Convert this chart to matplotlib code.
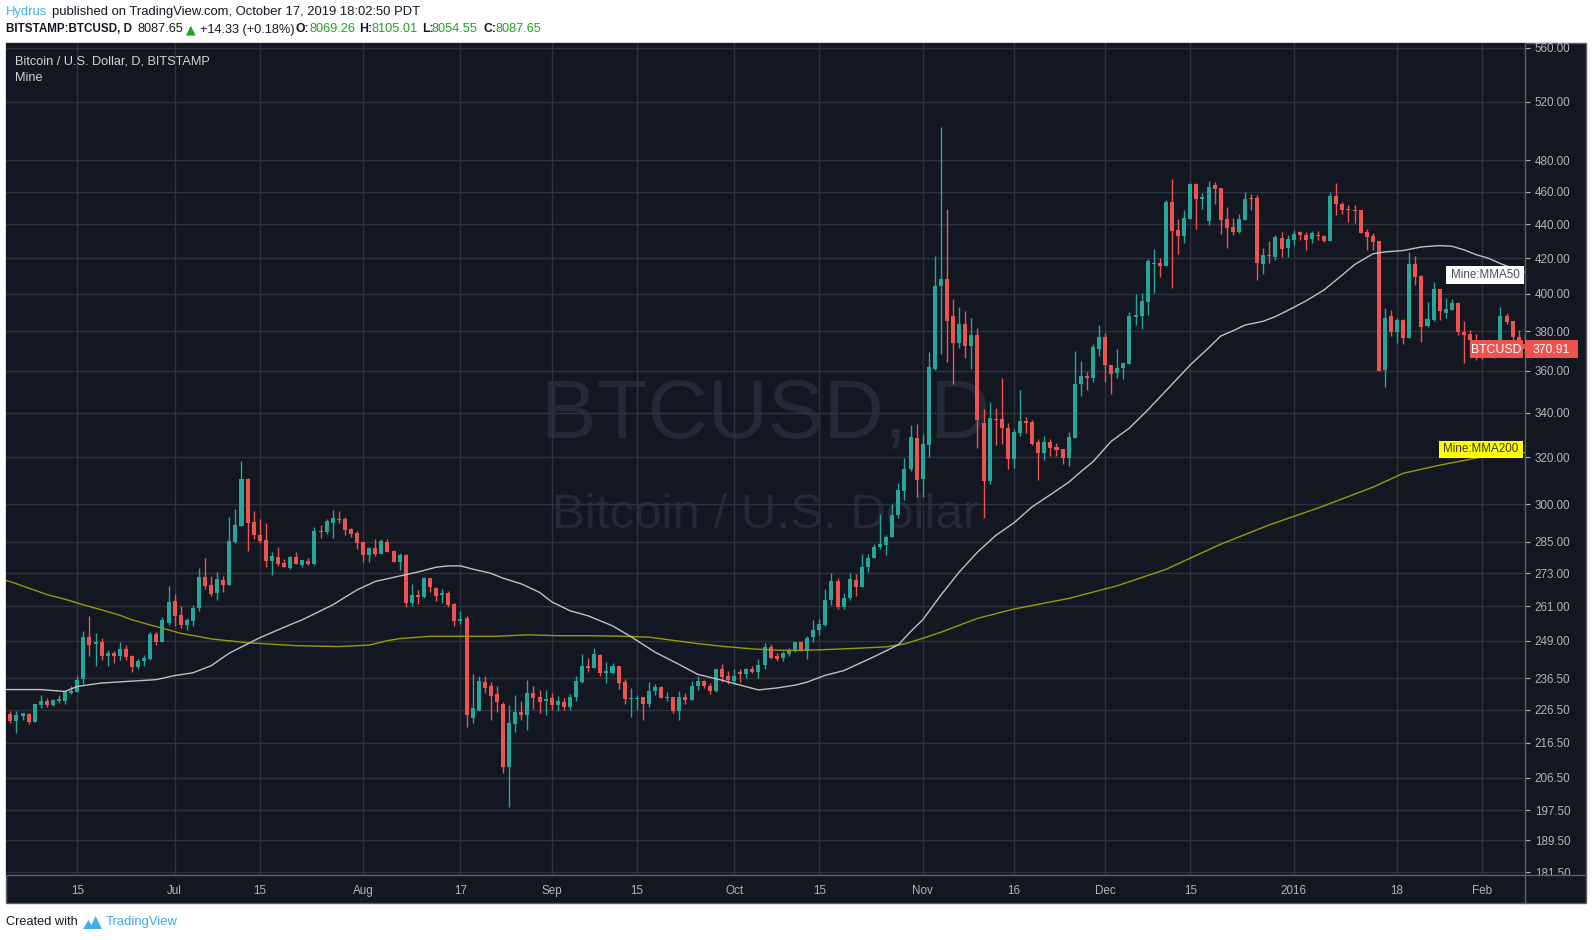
import numpy as np
import pandas as pd
import matplotlib
matplotlib.use("Agg")
import matplotlib.pyplot as plt
import matplotlib.dates as mdates
from matplotlib.patches import Rectangle, Polygon
from matplotlib.lines import Line2D
from matplotlib.ticker import NullLocator
from matplotlib.transforms import Bbox

plt.rcParams['font.family'] = ['Liberation Sans', 'DejaVu Sans']

# ---------------- data (BITSTAMP BTCUSD, daily) ----------------
start_date = '2015-06-04'

opens = [
    225.2, 223.2, 224.7, 225.2, 222.9, 227.9, 229.2, 227.9, 229.2, 229.2, 231.8, 232.1, 236.2, 250.2, 247.7, 248.6, 243.7, 244.9, 243.7, 246.1, 243.9, 240.1, 242.1, 242.9, 251.3, 248.6, 255.2,
    262.9, 257.9, 254.4, 255.9, 260.4, 271.7, 268.8, 265.6, 270.6, 268.8, 284.8, 291.3, 310.4, 292.8, 287.6, 285.8, 277.8, 279.2, 276.9, 275.0, 279.2, 276.3, 277.7, 276.5, 289.3, 289.0, 292.6, 294.2, 294.0, 290.1, 288.5,
    285.0, 280.0, 282.7, 280.5, 285.0, 281.5, 277.4, 280.0, 262.3, 265.1, 264.2, 271.4, 267.6, 264.9, 265.9, 261.8, 255.9, 257.0, 223.9, 226.3, 235.4, 233.9, 231.4, 228.5, 209.6, 222.3, 225.9, 224.9, 231.8, 230.5, 229.2,
    230.2, 227.9, 229.1, 227.3, 230.5, 235.4, 240.6, 240.0, 244.2, 238.3, 238.3, 240.4, 235.2, 230.0, 230.0, 230.4, 228.2, 232.3, 233.6, 230.1, 230.4, 226.1, 230.4, 229.5, 233.9, 235.5, 234.2, 232.3, 239.4, 237.1,
    235.7, 238.4, 237.8, 239.4, 238.7, 240.7, 246.9, 243.7, 243.3, 244.4, 245.5, 248.4, 245.5, 250.1, 252.5, 254.4, 263.1, 270.2, 260.9, 264.1, 270.6, 267.8, 275.3, 278.6, 283.1, 283.9, 286.8, 295.7, 305.7, 314.9, 328.5,
    310.6, 325.4, 361.0, 404.3, 408.3, 388.1, 374.1, 383.9, 372.7, 378.2, 335.3, 309.9, 337.2, 337.2, 333.0, 319.2, 330.7, 336.4, 335.8, 326.7, 321.8, 326.7, 324.5, 323.6, 319.7, 328.5, 353.6, 357.6, 356.6, 371.0,
    377.1, 363.0, 359.0, 361.5, 363.4, 387.6, 388.1, 395.6, 416.7, 417.2, 415.5, 453.5, 436.5, 432.9, 443.1, 464.8, 455.4, 441.9, 464.2, 462.3, 443.1, 438.2, 435.3, 442.5, 456.0, 456.0, 416.7, 421.8, 420.7, 431.8, 425.9,
    430.6, 435.3, 433.5, 431.2, 433.5, 432.9, 430.0, 457.3, 452.3, 449.0, 448.6, 448.6, 435.3, 432.9, 430.0, 360.5, 388.1, 379.7, 386.0, 376.6, 416.7, 409.9, 382.8, 386.0, 402.7, 389.7, 391.3, 395.0, 379.7, 378.6, 375.6,
    373.0, 372.5, 373.5, 370.5, 388.1, 385.3, 377.2, 373.5,
]
highs = [
    226.3, 226.3, 225.5, 225.7, 228.4, 231.1, 230.1, 229.8, 231.1, 232.3, 234.2, 237.4, 252.3, 257.6, 251.5, 249.8, 245.8, 245.4, 248.4, 247.6, 244.3, 242.8, 244.2, 252.0, 252.0, 257.1, 268.3,
    265.4, 261.1, 256.7, 261.4, 275.0, 278.8, 272.1, 273.5, 272.1, 294.8, 297.9, 318.3, 311.0, 297.3, 294.0, 292.5, 281.1, 283.0, 278.3, 279.6, 281.1, 278.1, 278.8, 290.7, 291.6, 294.2, 297.7, 297.3, 294.8, 290.5, 289.3,
    285.3, 283.2, 286.1, 286.1, 286.1, 281.9, 280.7, 280.5, 269.1, 266.9, 271.7, 271.4, 267.9, 267.3, 266.5, 262.3, 259.3, 257.4, 237.9, 237.1, 237.1, 235.4, 234.1, 229.1, 228.1, 231.2, 229.2, 236.0, 234.1, 232.8, 232.8,
    231.8, 230.9, 230.2, 231.5, 237.3, 244.4, 243.2, 246.5, 244.5, 241.8, 241.4, 240.4, 236.3, 233.3, 231.2, 230.4, 235.2, 234.8, 234.2, 232.0, 230.4, 232.3, 231.7, 235.8, 237.4, 236.0, 234.9, 239.7, 241.1, 238.8,
    239.7, 239.4, 240.0, 240.4, 242.7, 248.3, 247.9, 245.0, 245.5, 246.6, 248.7, 248.7, 250.7, 256.2, 256.6, 267.3, 273.2, 271.3, 265.6, 273.2, 272.9, 280.4, 280.4, 284.3, 296.1, 287.8, 300.2, 309.0, 319.7, 334.4, 334.9,
    330.3, 369.5, 421.3, 502.5, 449.2, 397.2, 392.9, 390.8, 387.0, 381.8, 341.8, 345.0, 342.3, 356.6, 335.3, 332.5, 350.8, 338.1, 336.7, 328.0, 329.4, 328.0, 326.2, 323.6, 331.2, 369.9, 365.0, 359.5, 373.5, 383.3,
    379.2, 363.0, 371.0, 364.4, 390.2, 399.9, 400.5, 419.5, 425.3, 420.1, 454.8, 468.0, 443.1, 448.6, 465.4, 465.4, 459.1, 466.7, 466.1, 462.3, 450.4, 443.7, 446.2, 459.8, 458.5, 457.9, 425.9, 430.0, 433.5, 435.3, 433.5,
    436.5, 435.9, 435.3, 435.9, 435.9, 433.3, 459.8, 465.4, 453.5, 451.7, 451.7, 448.6, 437.1, 434.7, 430.0, 392.4, 391.3, 387.0, 386.5, 423.6, 421.3, 410.4, 395.6, 406.6, 402.7, 397.7, 397.2, 395.6, 385.3, 380.8, 378.6,
    375.0, 376.0, 375.0, 392.9, 389.5, 385.3, 380.5, 379.0,
]
lows = [
    222.5, 219.4, 223.4, 222.3, 222.9, 227.1, 227.4, 227.7, 228.6, 228.2, 231.4, 232.1, 234.6, 243.7, 240.4, 242.4, 240.4, 241.5, 242.6, 242.4, 238.5, 239.6, 240.4, 242.6, 247.4, 248.6, 254.4,
    254.2, 253.3, 252.7, 254.2, 259.3, 267.4, 264.5, 263.4, 266.3, 268.8, 284.5, 291.3, 281.3, 286.1, 284.5, 275.2, 272.5, 275.8, 275.2, 274.7, 276.5, 275.2, 276.3, 276.2, 286.7, 287.9, 286.7, 292.5, 287.5, 287.1, 282.1,
    277.1, 277.1, 279.7, 280.5, 280.9, 277.1, 274.4, 260.9, 261.2, 261.8, 263.9, 266.0, 262.7, 262.3, 260.6, 254.2, 254.9, 221.4, 222.4, 226.3, 231.7, 223.3, 226.0, 207.9, 198.3, 219.9, 223.5, 220.4, 226.8, 225.5, 224.9,
    226.5, 226.3, 226.5, 226.5, 229.4, 235.0, 238.6, 240.0, 237.3, 235.1, 237.9, 233.2, 228.4, 224.4, 226.5, 223.5, 227.4, 231.1, 230.1, 229.3, 225.6, 223.5, 228.2, 229.5, 232.9, 233.4, 231.4, 232.0, 235.4, 234.8,
    234.8, 235.2, 236.5, 238.1, 236.5, 239.7, 242.7, 242.3, 242.3, 244.0, 245.1, 245.5, 243.0, 248.5, 250.8, 253.9, 261.3, 260.1, 260.1, 263.3, 264.5, 267.8, 273.6, 278.6, 282.4, 279.8, 286.8, 294.6, 301.9, 313.8, 303.2,
    303.2, 320.2, 360.3, 368.6, 364.6, 353.8, 371.7, 366.6, 361.0, 324.2, 294.6, 308.5, 325.4, 325.9, 314.9, 315.3, 329.4, 330.7, 325.4, 310.2, 318.8, 320.5, 320.5, 317.0, 316.2, 328.5, 347.9, 350.8, 354.6, 367.5,
    354.6, 348.8, 356.6, 356.1, 363.4, 383.3, 381.3, 388.6, 400.5, 409.3, 415.5, 403.2, 422.4, 428.8, 443.1, 437.1, 449.2, 439.5, 452.3, 434.1, 425.9, 433.5, 434.7, 442.5, 448.6, 407.6, 411.0, 417.2, 419.0, 420.5, 420.5,
    427.6, 430.6, 424.5, 428.8, 430.6, 429.2, 430.0, 445.5, 446.2, 441.3, 440.7, 434.7, 424.7, 424.7, 360.0, 352.2, 377.6, 374.1, 373.5, 376.6, 404.9, 374.5, 382.3, 385.3, 386.0, 387.0, 391.3, 378.1, 363.9, 370.5, 365.4,
    366.0, 369.0, 366.3, 369.0, 383.8, 374.0, 370.0, 368.0,
]
closes = [
    223.0, 224.9, 225.5, 222.9, 228.4, 229.2, 227.9, 229.5, 229.8, 232.0, 232.3, 236.1, 250.2, 247.6, 248.6, 243.7, 244.9, 243.7, 246.1, 243.6, 240.1, 242.3, 243.3, 251.3, 248.7, 256.2, 262.5,
    257.7, 254.4, 256.2, 260.4, 271.8, 268.5, 265.5, 270.8, 268.8, 285.4, 291.7, 310.4, 292.6, 287.5, 285.4, 277.8, 279.6, 276.5, 275.5, 279.2, 276.5, 278.1, 276.5, 289.3, 288.7, 293.3, 294.5, 293.7, 289.8, 287.9, 284.4,
    280.1, 282.7, 280.5, 285.4, 281.1, 277.4, 280.0, 262.3, 265.1, 264.2, 271.4, 267.8, 264.5, 265.8, 261.5, 255.9, 256.6, 224.8, 227.2, 235.7, 233.4, 231.0, 228.9, 209.6, 222.5, 225.9, 224.9, 231.8, 230.2, 228.9, 230.0,
    227.9, 229.4, 227.3, 230.5, 235.7, 240.6, 240.0, 244.5, 238.3, 238.9, 240.4, 234.9, 229.8, 230.1, 230.3, 228.2, 232.6, 233.6, 230.1, 230.4, 226.1, 230.7, 229.6, 234.2, 235.5, 233.9, 232.3, 239.4, 236.9, 236.1,
    237.4, 238.0, 239.4, 238.7, 241.0, 246.9, 243.3, 243.0, 244.8, 246.0, 248.4, 245.5, 250.0, 252.7, 254.8, 263.3, 270.2, 260.9, 264.0, 271.0, 267.8, 275.5, 278.9, 283.1, 284.3, 287.0, 295.7, 306.0, 314.9, 329.0, 310.2,
    325.9, 361.9, 404.3, 408.3, 385.6, 374.1, 383.9, 372.7, 378.2, 336.7, 309.9, 337.6, 336.7, 333.0, 319.2, 331.2, 336.2, 335.5, 325.9, 321.8, 326.7, 324.1, 323.2, 319.7, 329.0, 353.6, 357.6, 356.6, 372.0, 377.1,
    363.0, 358.5, 361.5, 363.9, 388.1, 388.6, 396.1, 418.4, 417.2, 415.5, 453.5, 435.9, 432.9, 443.7, 464.8, 455.4, 456.6, 462.9, 461.7, 442.5, 437.7, 435.3, 443.1, 455.4, 455.4, 417.2, 421.8, 421.3, 432.4, 425.3, 431.2,
    434.1, 433.7, 430.6, 434.7, 432.7, 429.8, 457.3, 452.3, 448.6, 448.6, 448.2, 434.7, 432.4, 429.4, 360.0, 387.0, 379.7, 386.0, 376.6, 416.7, 409.3, 382.3, 386.5, 402.7, 390.7, 391.8, 395.0, 379.7, 378.1, 375.6, 373.0,
    372.5, 373.5, 370.5, 388.1, 385.0, 377.2, 373.5, 370.91,
]

mma50_dates = [
    '2015-06-03', '2015-06-09', '2015-06-13', '2015-06-15', '2015-06-19', '2015-06-24', '2015-06-28', '2015-07-01',
    '2015-07-04', '2015-07-07', '2015-07-10', '2015-07-15', '2015-07-20', '2015-07-22', '2015-07-27', '2015-07-31',
    '2015-08-03', '2015-08-07', '2015-08-10', '2015-08-13', '2015-08-15', '2015-08-17', '2015-08-19', '2015-08-22',
    '2015-08-24', '2015-08-27', '2015-08-30', '2015-09-01', '2015-09-04', '2015-09-07', '2015-09-11', '2015-09-14',
    '2015-09-18', '2015-09-22', '2015-09-25', '2015-09-29', '2015-10-03', '2015-10-05', '2015-10-08', '2015-10-11',
    '2015-10-13', '2015-10-16', '2015-10-19', '2015-10-24', '2015-10-28', '2015-10-30', '2015-11-01', '2015-11-02',
    '2015-11-04', '2015-11-07', '2015-11-10', '2015-11-13', '2015-11-16', '2015-11-19', '2015-11-22', '2015-11-25',
    '2015-11-27', '2015-11-29', '2015-12-02', '2015-12-05', '2015-12-08', '2015-12-12', '2015-12-15', '2015-12-18',
    '2015-12-20', '2015-12-22', '2015-12-24', '2015-12-27', '2015-12-29', '2015-12-31', '2016-01-03', '2016-01-06',
    '2016-01-09', '2016-01-11', '2016-01-14', '2016-01-16', '2016-01-19', '2016-01-22', '2016-01-25', '2016-01-27',
    '2016-01-29', '2016-01-31', '2016-02-02', '2016-02-04', '2016-02-05', '2016-02-08',
]
mma50_values = [
    232.9, 232.9, 232.3, 233.9, 235.0, 235.6, 236.1, 237.4,
    238.3, 240.6, 244.8, 250.0, 254.5, 256.2, 261.5, 266.9,
    270.0, 272.0, 273.5, 275.3, 275.8, 275.8, 274.6, 273.0,
    271.2, 269.1, 266.0, 262.6, 259.4, 257.6, 254.1, 250.4,
    245.1, 241.0, 237.8, 235.9, 233.8, 232.8, 233.4, 234.3,
    235.3, 237.5, 239.0, 243.6, 247.6, 252.1, 256.2, 259.1,
    265.0, 273.5, 281.0, 287.5, 292.5, 299.0, 304.0, 309.2,
    313.7, 318.0, 327.0, 333.0, 341.3, 353.5, 363.0, 371.5,
    377.6, 380.3, 383.3, 385.3, 387.8, 391.0, 396.1, 402.2,
    410.5, 416.3, 422.5, 423.6, 424.4, 426.5, 427.3, 426.9,
    424.8, 422.0, 420.0, 416.9, 415.6, 412.0,
]

mma200_dates = [
    '2015-06-03', '2015-06-04', '2015-06-08', '2015-06-10', '2015-06-13', '2015-06-16', '2015-06-19', '2015-06-22',
    '2015-06-24', '2015-06-27', '2015-06-30', '2015-07-02', '2015-07-05', '2015-07-07', '2015-07-13', '2015-07-21',
    '2015-07-28', '2015-08-02', '2015-08-05', '2015-08-07', '2015-08-12', '2015-08-18', '2015-08-23', '2015-08-28',
    '2015-09-02', '2015-09-07', '2015-09-13', '2015-09-17', '2015-09-21', '2015-09-25', '2015-09-29', '2015-10-04',
    '2015-10-08', '2015-10-11', '2015-10-15', '2015-10-21', '2015-10-26', '2015-10-29', '2015-11-01', '2015-11-04',
    '2015-11-10', '2015-11-16', '2015-11-25', '2015-12-03', '2015-12-11', '2015-12-20', '2015-12-28', '2016-01-05',
    '2016-01-14', '2016-01-19', '2016-01-25', '2016-02-01', '2016-02-08',
]
mma200_values = [
    270.5, 269.9, 266.8, 265.2, 263.5, 261.5, 259.7, 257.8,
    256.2, 254.4, 252.7, 251.5, 250.4, 249.6, 248.3, 247.3,
    247.0, 247.5, 249.0, 249.7, 250.5, 250.5, 250.5, 251.0,
    250.7, 250.7, 250.5, 250.2, 249.1, 248.0, 247.1, 246.2,
    245.8, 245.7, 245.9, 246.4, 246.9, 247.9, 249.8, 251.9,
    256.7, 260.0, 263.8, 268.4, 274.5, 284.1, 291.7, 298.5,
    307.1, 313.0, 316.5, 320.1, 322.0,
]

price_ticks = [181.5, 189.5, 197.5, 206.5, 216.5, 226.5, 236.5, 249.0, 261.0, 273.0, 285.0, 300.0,
               320.0, 340.0, 360.0, 380.0, 400.0, 420.0, 440.0, 460.0, 480.0, 520.0, 560.0]
date_tick_dates = ['2015-06-15', '2015-07-01', '2015-07-15', '2015-08-01', '2015-08-17', '2015-09-01',
                   '2015-09-15', '2015-10-01', '2015-10-15', '2015-11-01', '2015-11-16', '2015-12-01',
                   '2015-12-15', '2016-01-01', '2016-01-18', '2016-02-01']
date_tick_labels = ['15', 'Jul', '15', 'Aug', '17', 'Sep', '15', 'Oct', '15', 'Nov', '16', 'Dec', '15',
                    '2016', '18', 'Feb']

# ---------------- figure ----------------
W, H = 1592, 940
BG = '#131722'
UP, DN = '#26a69a', '#ef5350'
AXTXT = '#b2b5be'
SEP = '#5d606b'

fig = plt.figure(figsize=(W / 100, H / 100), dpi=100)
fig.patch.set_facecolor('white')


def rect_px(x0, y0, x1, y1, **kw):
    r = Rectangle((x0 / W, 1 - y1 / H), (x1 - x0) / W, (y1 - y0) / H,
                  transform=fig.transFigure, **kw)
    fig.add_artist(r)
    return r


def text_px(x, y, s, **kw):
    kw.setdefault('va', 'center')
    return fig.text(x / W, 1 - y / H, s, **kw)


# dark chart panel
rect_px(6, 43, 1586, 903, facecolor=BG, edgecolor=SEP, linewidth=1.0, zorder=0)

PL, PR, PT, PB = 6, 1525, 43, 875
ax = fig.add_axes([PL / W, 1 - PB / H, (PR - PL) / W, (PB - PT) / H])
ax.set_facecolor(BG)
ax.set_zorder(1)
for sp in ax.spines.values():
    sp.set_visible(False)

dates = pd.date_range(start_date, periods=len(closes), freq='D')
x = mdates.date2num(dates)
o = np.array(opens)
h = np.array(highs)
l = np.array(lows)
c = np.array(closes)
up = c >= o
cols = np.where(up, UP, DN)

ax.set_yscale('log')
ax.set_ylim(180.76, 563.6)
base = mdates.date2num(pd.Timestamp('2015-07-01'))
ax.set_xlim(base - 27.72, base + 222.03)

# watermark
ax.text(0.5, 0.5517, 'BTCUSD, D', transform=ax.transAxes, ha='center', va='center',
        fontsize=60, color='#252935', zorder=0.5)
ax.text(0.5, 0.4315, 'Bitcoin / U.S. Dollar', transform=ax.transAxes, ha='center', va='center',
        fontsize=35.5, color='#252935', zorder=0.5)

# candles
ax.vlines(x, l, h, colors=cols, linewidth=1.0, zorder=3)
lo = np.minimum(o, c)
hi = np.maximum(np.maximum(o, c), lo * 1.0013)
ax.bar(x, hi - lo, bottom=lo, width=0.66, color=cols, linewidth=0, zorder=4)

# moving averages
ax.plot(mdates.date2num(pd.to_datetime(mma200_dates)), mma200_values, color='#9a9a06',
        linewidth=1.0, zorder=5, solid_joinstyle='round')
ax.plot(mdates.date2num(pd.to_datetime(mma50_dates)), mma50_values, color='#bfc1c7',
        linewidth=1.0, zorder=5, solid_joinstyle='round')

# axes / grid
ax.set_yticks(price_ticks)
ax.set_yticklabels([f'{v:.2f}' for v in price_ticks])
ax.yaxis.set_minor_locator(NullLocator())
ax.yaxis.tick_right()
ax.tick_params(axis='y', which='major', length=3.6, width=0.8, color=AXTXT, pad=3.4,
               labelsize=8.4, labelcolor=AXTXT)
ax.set_xticks(mdates.date2num(pd.to_datetime(date_tick_dates)))
ax.set_xticklabels(date_tick_labels)
ax.tick_params(axis='x', length=0, pad=14, labelsize=8.4, labelcolor=AXTXT)
for lbl in ax.get_xticklabels():
    lbl.set_va('baseline')
ax.grid(True, color='#2e323e', linewidth=1.0, zorder=0)
ax.set_axisbelow(True)

clip = Bbox([[PR, H - PB], [W, H - PT + 8]])
for t in ax.yaxis.get_major_ticks():
    t.label2.set_clip_on(True)
    t.label2.set_clip_box(clip)

# separators
fig.add_artist(Line2D([PR / W, PR / W], [1 - 43 / H, 1 - 903 / H], color=SEP, linewidth=1.0,
                      transform=fig.transFigure, zorder=6))
fig.add_artist(Line2D([6 / W, 1586 / W], [1 - PB / H, 1 - PB / H], color=SEP, linewidth=1.0,
                      transform=fig.transFigure, zorder=6))

# right-side labels
rect_px(1446, 266, 1524, 284, facecolor='white', edgecolor='none', zorder=7)
text_px(1485, 275.5, 'Mine:MMA50', ha='center', fontsize=8.4, color='#4a4e59', zorder=8)
rect_px(1439, 441, 1523, 458, facecolor='#ffff00', edgecolor='none', zorder=7)
text_px(1481, 449.5, 'Mine:MMA200', ha='center', fontsize=8.4, color='#3a3a1a', zorder=8)

last_close = closes[-1]
y_disp = ax.transData.transform((ax.get_xlim()[0], last_close))[1]
y_last = H - y_disp
rect_px(1470, y_last - 9, 1523, y_last + 9, facecolor=DN, edgecolor='none', zorder=7)
text_px(1496.5, y_last + 0.5, 'BTCUSD', ha='center', fontsize=8.8, color='white', zorder=8)
rect_px(1525, y_last - 9, 1578, y_last + 9, facecolor=DN, edgecolor='none', zorder=7)
text_px(1551.5, y_last + 0.5, f'{last_close:.2f}', ha='center', fontsize=8.8, color='white', zorder=8)

# panel legend texts
text_px(15, 61, 'Bitcoin / U.S. Dollar, D, BITSTAMP', fontsize=9.2, color='#d1d4dc')
text_px(15, 78, 'Mine', fontsize=9.2, color='#d1d4dc')

# header
HDR = '#131722'
GRN = '#1ea51e'
text_px(6, 12.5, 'Hydrus', fontsize=9.4, color='#3bb3e4')
text_px(51.5, 12.5, 'published on TradingView.com, October 17, 2019 18:02:50 PDT', fontsize=9.4, color=HDR)
y2 = 29.5
text_px(6, y2, 'BITSTAMP:BTCUSD, D', fontsize=8.4, fontweight='bold', color=HDR)
text_px(138, y2, '8087.65', fontsize=9.2, color=HDR)
text_px(186, y2, '\u25B2', fontsize=9, color=GRN, family=['DejaVu Sans'])
text_px(200, y2, '+14.33 (+0.18%)', fontsize=9.2, color=HDR)
text_px(296, y2, 'O:', fontsize=8.8, fontweight='bold', color=HDR)
text_px(309, y2, '8069.26', fontsize=9.2, color=GRN)
text_px(359, y2, 'H:', fontsize=8.8, fontweight='bold', color=HDR)
text_px(372, y2, '8105.01', fontsize=9.2, color=GRN)
text_px(422, y2, 'L:', fontsize=8.8, fontweight='bold', color=HDR)
text_px(432, y2, '8054.55', fontsize=9.2, color=GRN)
text_px(483, y2, 'C:', fontsize=8.8, fontweight='bold', color=HDR)
text_px(496, y2, '8087.65', fontsize=9.2, color=GRN)

# footer
text_px(6, 922, 'Created with', fontsize=9.2, color=HDR)
logo = Polygon([(83 / W, 1 - 929 / H), (88.5 / W, 1 - 920 / H), (91.5 / W, 1 - 925 / H),
                (95.5 / W, 1 - 916 / H), (102 / W, 1 - 929 / H)], closed=True,
               transform=fig.transFigure, facecolor='#3cb3ee', edgecolor='none')
fig.add_artist(logo)
text_px(106, 922, 'TradingView', fontsize=9.4, color='#3aa9e8')

fig.savefig('out.png', dpi=100, facecolor='white')
